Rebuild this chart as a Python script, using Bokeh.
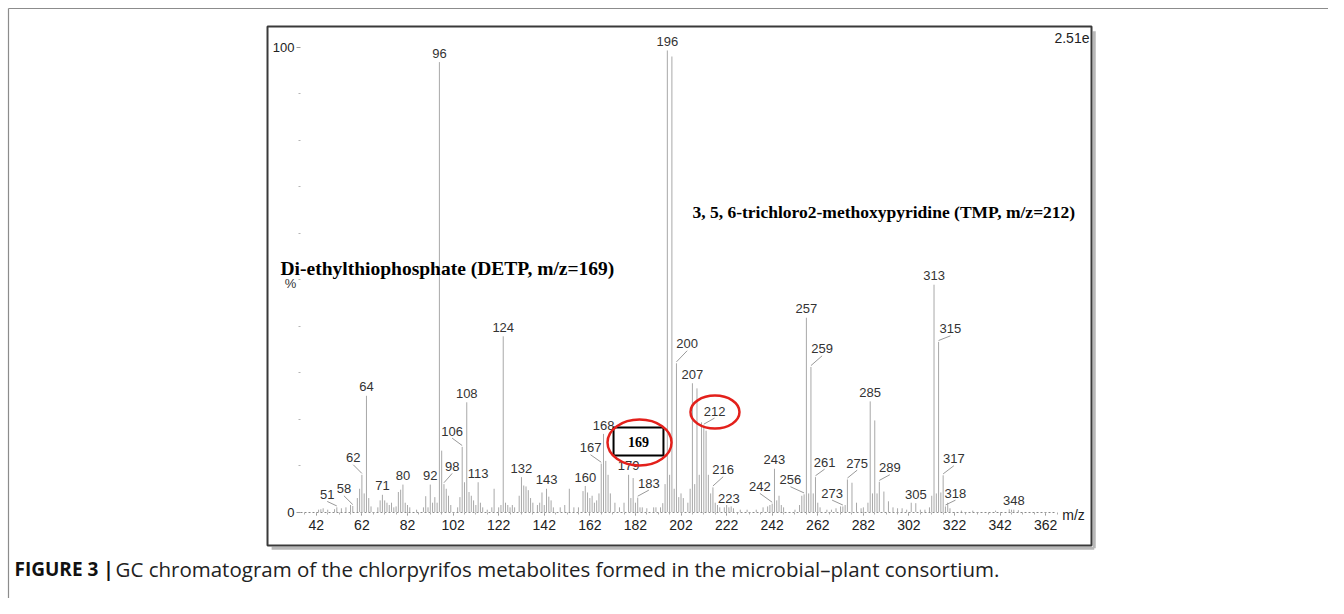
from bokeh.plotting import figure
from bokeh.models import LinearAxis, FixedTicker, ColumnDataSource
from bokeh.embed import file_html
from bokeh.resources import INLINE
from bokeh.core.properties import value

# ---------------- data ----------------
mz = [43, 44, 45, 47, 50, 51, 53, 55, 57, 58, 60, 61, 62, 63, 64, 65, 66, 69, 70, 71,
      72, 73, 74, 75, 76, 77, 78, 79, 80, 81, 82, 83, 86, 89, 90, 91, 92, 93, 94, 95,
      96, 97, 98, 99, 100, 101, 104, 105, 106, 107, 108, 109, 110, 111, 112, 113, 114, 115, 117, 119,
      120, 122, 123, 124, 125, 126, 127, 128, 129, 131, 132, 133, 134, 135, 136, 137, 139, 140, 141, 142,
      143, 144, 145, 146, 149, 151, 153, 155, 157, 159, 160, 161, 162, 163, 164, 165, 166, 167, 168, 169,
      170, 171, 173, 175, 177, 179, 180, 181, 182, 183, 184, 185, 187, 190, 191, 193, 194, 195, 196, 197,
      198, 199, 200, 201, 202, 203, 205, 206, 207, 208, 209, 210, 211, 212, 213, 214, 215, 216, 217, 218,
      219, 221, 222, 223, 224, 225, 228, 231, 235, 238, 240, 241, 242, 243, 244, 245, 246, 247, 252, 254,
      255, 256, 257, 258, 259, 260, 261, 262, 263, 266, 268, 270, 272, 273, 274, 275, 277, 279, 281, 282,
      284, 285, 286, 287, 288, 289, 291, 293, 295, 297, 299, 301, 303, 305, 307, 309, 311, 312, 313, 314,
      315, 316, 317, 318, 319, 320, 325, 330, 340, 346, 347, 348, 350]
intensity = [0.5, 0.6, 0.8, 0.5, 0.6, 1.0, 0.8, 1.0, 1.5, 1.3, 3.0, 5.0, 8.0, 4.0, 25.0, 3.0, 1.2, 1.0, 2.5, 3.7,
             2.5, 2.0, 1.5, 2.0, 1.0, 1.2, 4.3, 4.8, 5.9, 2.0, 1.5, 1.0, 0.5, 1.0, 3.4, 1.0, 5.9, 2.0, 3.2, 2.0,
             96.8, 13.2, 6.0, 5.0, 3.5, 1.5, 1.0, 3.2, 14.0, 6.4, 23.6, 4.3, 3.5, 2.5, 1.5, 6.4, 2.0, 1.0, 0.5, 1.0,
             5.0, 1.0, 1.5, 37.8, 2.0, 1.5, 1.0, 1.5, 1.0, 3.5, 7.5, 5.7, 5.5, 4.7, 3.0, 2.0, 1.5, 2.0, 4.2, 1.5,
             5.0, 3.3, 2.5, 1.0, 1.0, 1.5, 5.0, 1.0, 1.0, 4.5, 5.6, 4.2, 3.0, 3.5, 2.0, 2.5, 4.0, 10.4, 16.8, 11.0,
             8.0, 4.0, 2.0, 1.0, 2.0, 8.0, 3.0, 7.3, 2.0, 3.1, 1.0, 1.0, 0.8, 1.0, 1.0, 1.0, 1.9, 6.0, 99.3, 8.0,
             98.0, 5.0, 32.0, 3.2, 4.0, 3.0, 2.0, 5.0, 27.7, 6.0, 26.6, 8.0, 19.3, 18.6, 17.5, 8.0, 4.0, 5.3, 2.0, 1.5,
             1.0, 1.0, 1.5, 1.0, 1.2, 0.8, 0.5, 0.5, 0.5, 1.0, 1.2, 1.5, 1.8, 9.3, 2.5, 3.5, 1.5, 1.0, 0.5, 1.5,
             3.5, 3.8, 41.8, 4.0, 31.2, 4.0, 7.5, 2.0, 1.0, 0.5, 0.5, 0.8, 1.2, 1.2, 1.5, 7.0, 6.3, 2.0, 0.8, 1.0,
             2.0, 23.8, 4.0, 19.7, 4.0, 6.5, 4.4, 2.3, 1.0, 0.8, 0.8, 0.5, 2.0, 1.9, 0.5, 0.5, 1.0, 3.5, 48.9, 4.0,
             36.6, 4.2, 7.9, 1.2, 2.0, 0.8, 0.3, 0.3, 0.3, 0.6, 0.5, 0.5, 0.4]

# peaks labelled directly above their line
direct_label_mz = [64, 71, 80, 92, 96, 108, 113, 124, 132, 143, 160, 168, 179, 196, 207,
                   223, 243, 257, 285, 305, 313, 348]
# peaks labelled with a leader line: label anchor (m/z, %)
leader_label_mz = [51, 58, 62, 98, 106, 167, 183, 200, 212, 216, 242, 256, 259, 261,
                   273, 275, 289, 315, 317, 318]
leader_label_x = [46.8, 54.1, 58.2, 101.6, 101.6, 162.3, 187.9, 204.7, 216.7, 220.5, 236.6,
                  250.0, 263.9, 265.0, 268.3, 279.3, 293.6, 320.2, 321.7, 322.4]
leader_label_y = [2.47, 3.70, 10.37, 8.50, 16.09, 12.52, 4.91, 34.9, 20.4, 7.79, 4.20,
                  5.64, 33.8, 9.42, 2.75, 9.21, 8.22, 38.1, 10.15, 2.75]

x_ticks = list(range(42, 363, 20))
x_minor = list(range(37, 368, 5))
y_ticks = [0, 100]
y_minor = [10, 20, 30, 40, 50, 60, 70, 80, 90]

detp_text = "Di-ethylthiophosphate (DETP, m/z=169)"
tmp_text = "3, 5, 6-trichloro2-methoxypyridine (TMP, m/z=212)"
caption_bold = "FIGURE 3 |"
caption_text = "GC chromatogram of the chlorpyrifos metabolites formed in the microbial\u2013plant consortium."

# chart box and page frame in data units (m/z, %)
chart_box = dict(left=20.59, right=382.09, bottom=-7.21, top=104.45)
page_frame = dict(left=-93.04, top=108.33)
# highlighted annotations (m/z, %, width in m/z, height in %)
box169 = dict(left=172.4, right=194.3, bottom=12.16, top=18.18, cx=183.4, cy=15.15)
ellipse169 = dict(x=183.8, y=14.95, w=28.1, h=9.9)
ellipse212 = dict(x=216.9, y=21.5, w=21.5, h=7.1)

# ---------------- figure (frame = whole canvas, axes fixed inside) ----------------
X0, X1 = -96.55, 486.06
Y0, Y1 = -18.61, 110.05
p = figure(width=1328, height=598, x_range=(X0, X1), y_range=(Y0, Y1),
           x_axis_type=None, y_axis_type=None, toolbar_location=None,
           output_backend="svg", min_border=0)
p.outline_line_color = None
p.background_fill_color = "white"
p.border_fill_color = "white"

sans = "Liberation Sans"
serif = "Liberation Serif"
LIFT = 1.3  # label lift above the anchor, in %

# page frame lines (top and left)
p.segment(x0=[page_frame["left"], page_frame["left"]], y0=[page_frame["top"], page_frame["top"]],
          x1=[X1, page_frame["left"]], y1=[page_frame["top"], Y0],
          line_color="#8c8c8c", line_width=1.2)

# x axis at intensity 0
xaxis = LinearAxis(fixed_location=0, ticker=FixedTicker(ticks=x_ticks, minor_ticks=x_minor),
                   bounds=(35, 366))
xaxis.axis_line_color = "#8a8a8a"
xaxis.axis_line_dash = "2 2"
xaxis.axis_line_width = 1
xaxis.major_tick_out = 3
xaxis.major_tick_in = 0
xaxis.major_tick_line_color = "#8a8a8a"
xaxis.minor_tick_out = 2
xaxis.minor_tick_in = 0
xaxis.minor_tick_line_color = "#b0b0b0"
xaxis.major_label_standoff = 5
xaxis.major_label_text_font = sans
xaxis.major_label_text_font_size = "14px"
xaxis.major_label_text_color = "#222222"
p.add_layout(xaxis, "below")

yaxis = LinearAxis(fixed_location=35.07, ticker=FixedTicker(ticks=y_ticks, minor_ticks=y_minor),
                   bounds=(0, 100))
yaxis.axis_line_color = None
yaxis.major_tick_out = 4
yaxis.major_tick_in = 0
yaxis.major_tick_line_color = "#9a9a9a"
yaxis.minor_tick_out = 2
yaxis.minor_tick_in = 0
yaxis.minor_tick_line_color = "#b5b5b5"
yaxis.major_label_standoff = 2
yaxis.major_label_text_font = sans
yaxis.major_label_text_font_size = "13px"
yaxis.major_label_text_color = "#222222"
p.add_layout(yaxis, "left")

# chart box with a soft drop shadow
cb = chart_box
p.segment(x0=[cb["right"] + 1.2, cb["left"] + 1.8], y0=[cb["top"] - 1.0, cb["bottom"] - 0.6],
          x1=[cb["right"] + 1.2, cb["right"] + 1.2], y1=[cb["bottom"] - 0.6, cb["bottom"] - 0.6],
          line_color="#b8b8b8", line_width=3)
p.quad(left=[cb["left"]], right=[cb["right"]], bottom=[cb["bottom"]], top=[cb["top"]],
       fill_color=None, line_color="#3a3a3a", line_width=2)

# spectrum sticks
spec = ColumnDataSource(dict(x=mz, y0=[0] * len(mz), y1=intensity))
p.segment(x0="x", y0="y0", x1="x", y1="y1", source=spec, line_color="#a8a8a8", line_width=1)

lookup = dict(zip(mz, intensity))

# direct labels
dsrc = ColumnDataSource(dict(x=direct_label_mz,
                             y=[lookup[m] + 0.6 + LIFT for m in direct_label_mz],
                             t=[str(m) for m in direct_label_mz]))
p.text(x="x", y="y", text="t", source=dsrc, text_align="center", text_baseline="alphabetic",
       text_font=value(sans), text_font_size="13px", text_color="#333333")

# leader labels
lsrc = ColumnDataSource(dict(x=leader_label_x, y=[y + LIFT for y in leader_label_y],
                             t=[str(m) for m in leader_label_mz],
                             px=leader_label_mz,
                             py=[lookup[m] + 0.3 for m in leader_label_mz],
                             ly=[y - 0.2 for y in leader_label_y]))
p.segment(x0="x", y0="ly", x1="px", y1="py", source=lsrc, line_color="#9a9a9a", line_width=1)
p.text(x="x", y="y", text="t", source=lsrc, text_align="center", text_baseline="alphabetic",
       text_font=value(sans), text_font_size="13px", text_color="#333333")

# 169 box
p.quad(left=[box169["left"]], right=[box169["right"]], bottom=[box169["bottom"]], top=[box169["top"]],
       fill_color="white", line_color="black", line_width=2)
p.text(x=[box169["cx"]], y=[box169["cy"]], text=["169"], text_align="center", text_baseline="middle",
       text_font=value(serif), text_font_style="bold", text_font_size="14px", text_color="black")

# red ellipses
p.ellipse(x=[ellipse169["x"], ellipse212["x"]], y=[ellipse169["y"], ellipse212["y"]],
          width=[ellipse169["w"], ellipse212["w"]], height=[ellipse169["h"], ellipse212["h"]],
          fill_color=None, line_color="#e3201b", line_width=2.5)

# compound annotations
p.text(x=[26.3], y=[52.4], text=[detp_text], text_align="left", text_baseline="middle",
       text_font=value(serif), text_font_style="bold", text_font_size="19.5px", text_color="black")
p.text(x=[207.0], y=[64.65], text=[tmp_text], text_align="left", text_baseline="middle",
       text_font=value(serif), text_font_style="bold", text_font_size="17.5px", text_color="black")

# small texts
p.text(x=[30.7], y=[49.2], text=["%"], text_align="center", text_baseline="middle",
       text_font=value(sans), text_font_size="13px", text_color="#333333")
p.text(x=[374.2], y=[-0.75], text=["m/z"], text_align="center", text_baseline="middle",
       text_font=value(sans), text_font_size="14px", text_color="#222222")
p.text(x=[381.2], y=[102.05], text=["2.51e"], text_align="right", text_baseline="middle",
       text_font=value(sans), text_font_size="14px", text_color="#222222")

# caption
p.text(x=[-90.4], y=[-12.37], text=[caption_bold], text_align="left", text_baseline="middle",
       text_font=value("Open Sans"), text_font_style="bold", text_font_size="19px", text_color="#111111")
p.text(x=[-46.1], y=[-12.37], text=[caption_text], text_align="left", text_baseline="middle",
       text_font=value("Open Sans"), text_font_size="20.5px", text_color="#222222")

open("out.html", "w").write(file_html(p, INLINE))
